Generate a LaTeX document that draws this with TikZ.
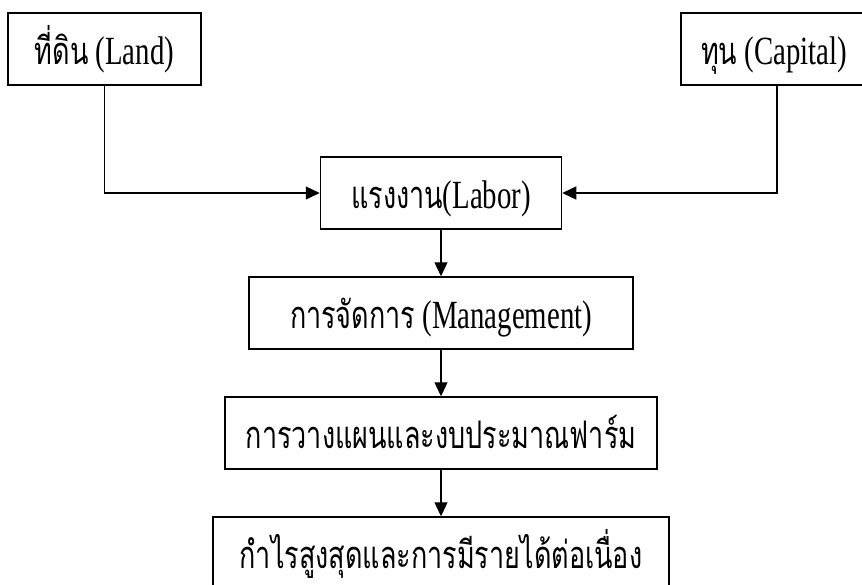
\documentclass[tikz,border=0pt]{standalone}
\usepackage{fontspec}
\setmainfont{Liberation Serif}[FakeStretch=0.72]
\newfontfamily\thaifont{Loma}[Script=Thai,FakeStretch=0.71]
\usetikzlibrary{arrows.meta}
\newcommand{\thaitxt}[1]{{\thaifont\fontsize{38}{46}\selectfont #1}}
\tikzset{
  flowbox/.style={draw, line width=1.5pt, minimum height=72pt, inner sep=0pt,
    text height=38pt, text depth=8pt, align=center,
    font=\fontsize{40}{48}\selectfont},
  conn/.style={line width=1.3pt, -{Triangle[length=14pt,width=13pt]}}
}
\begin{document}
\begin{tikzpicture}[x=1pt,y=-1pt]
\useasboundingbox (0,0) rectangle (862,584);
\clip (0,0) rectangle (862,584);
\node[flowbox, minimum width=193pt] (land) at (104.5,49) {\thaitxt{ที่ดิน} (Land)};
\node[flowbox, minimum width=186pt] (capital) at (774,49) {\thaitxt{ทุน} (Capital)};
\node[flowbox, minimum width=241pt] (labor) at (441,193) {\thaitxt{แรงงาน}(Labor)};
\node[flowbox, minimum width=384pt] (mgmt) at (441,313) {\thaitxt{การจัดการ} (Management)};
\node[flowbox, minimum width=432pt] (plan) at (441,433) {\thaitxt{การวางแผนและงบประมาณฟาร์ม}};
\node[flowbox, minimum width=456pt] (profit) at (441,553) {\thaitxt{กำไรสูงสุดและการมีรายได้ต่อเนื่อง}};
\draw[conn] (land.south) |- (labor.west);
\draw[conn] ([xshift=3pt]capital.south) |- (labor.east);
\draw[conn] (labor) -- (mgmt);
\draw[conn] (mgmt) -- (plan);
\draw[conn] (plan) -- (profit);
\end{tikzpicture}
\end{document}
